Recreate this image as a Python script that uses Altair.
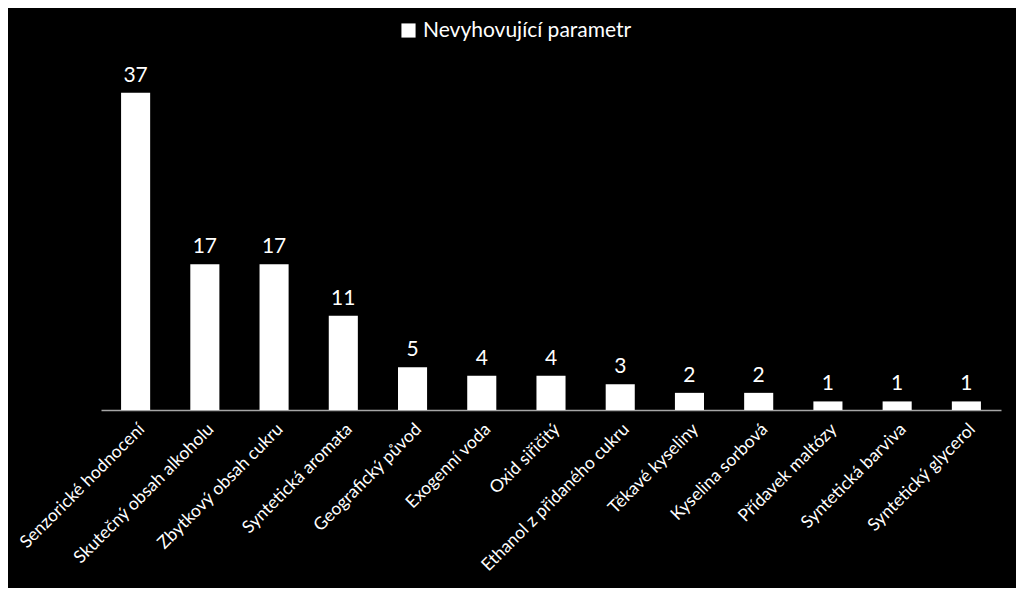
import altair as alt
import pandas as pd

categories = ["Senzorické hodnocení", "Skutečný obsah alkoholu", "Zbytkový obsah cukru",
              "Syntetická aromata", "Geografický původ", "Exogenní voda", "Oxid siřičitý",
              "Ethanol z přidaného cukru", "Těkavé kyseliny", "Kyselina sorbová",
              "Přídavek maltózy", "Syntetická barviva", "Syntetický glycerol"]
values = [37, 17, 17, 11, 5, 4, 4, 3, 2, 2, 1, 1, 1]
series = "Nevyhovující parametr"

df = pd.DataFrame({"cat": categories, "val": values, "series": [series] * len(values)})

FONT = "Lato"

x = alt.X("cat:N", sort=categories, title=None,
          scale=alt.Scale(paddingInner=0.58, paddingOuter=0.29),
          axis=alt.Axis(labelAngle=-45, labelColor="white", labelFontSize=17.5, labelFont=FONT,
                        ticks=False, domainColor="#a6a6a6", domainWidth=1.5, labelPadding=10,
                        labelLimit=300))
y = alt.Y("val:Q", scale=alt.Scale(domain=[0, 40]), axis=None)

bars = alt.Chart(df).mark_bar().encode(
    x=x, y=y,
    color=alt.Color("series:N", scale=alt.Scale(range=["white"]),
                    legend=alt.Legend(title=None, orient="none", legendX=297, legendY=-47,
                                      labelColor="white", labelFontSize=21, labelFont=FONT,
                                      labelLimit=400,
                                      symbolType="square", symbolSize=200, symbolStrokeWidth=0))
)
labels = alt.Chart(df).mark_text(dy=-17, color="white", fontSize=21, font=FONT).encode(
    x=alt.X("cat:N", sort=categories), y="val:Q", text="val:Q")

chart = (bars + labels).properties(
    width=900, height=343, background="black",
    autosize=alt.AutoSizeParams(type="none"),
    padding={"left": 93, "top": 59, "right": 15, "bottom": 178}
).configure_view(stroke=None)

chart.save("out.html", embed_options={"renderer": "svg", "actions": False})
